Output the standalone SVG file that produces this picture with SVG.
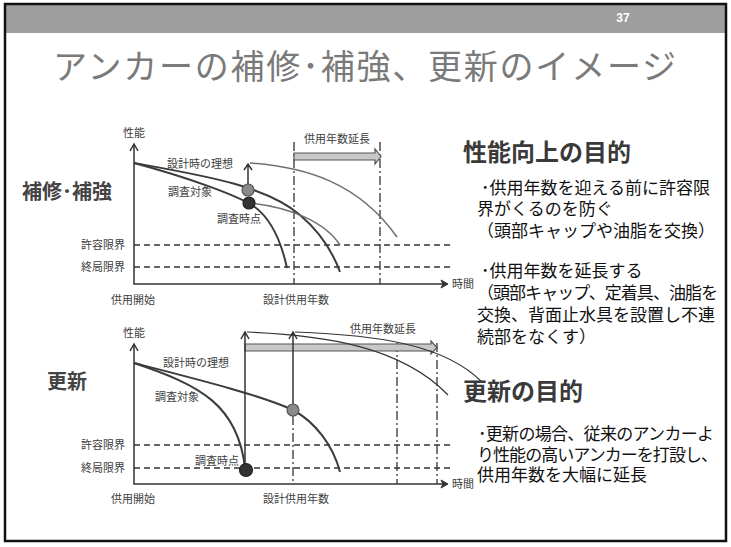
<svg xmlns="http://www.w3.org/2000/svg" width="731" height="547" viewBox="0 0 731 547">
<style>
text{font-family:"Liberation Sans","Noto Sans CJK JP",sans-serif}
.lbl{font-size:11px;fill:#404040}
.mid{text-anchor:middle}
.end{text-anchor:end}
.ax{stroke:#333;stroke-width:1.5;fill:none}
.dash{stroke:#333;stroke-width:1.3;stroke-dasharray:6 4;fill:none}
.dd{stroke:#333;stroke-width:1.3;stroke-dasharray:9 3 2 3;fill:none}
.dk{stroke:#3c3c3c;stroke-width:2;fill:none}
.lt{stroke:#707070;stroke-width:1.6;fill:none}
.thin{stroke:#333;stroke-width:1.2;fill:none}
.body{font-size:17px;fill:#111}
.head{font-size:24px;font-weight:bold;fill:#3a3a3a}
.big{font-size:20px;font-weight:bold;fill:#444}
.fat{fill:#c8c8c8;stroke:#555;stroke-width:1.2}
</style>
<rect x="0" y="0" width="731" height="547" fill="#fff"/>
<rect x="5" y="4" width="721" height="29" fill="#9e9e9e"/>
<rect x="5" y="4" width="721" height="537" fill="none" stroke="#111" stroke-width="2.5"/>
<text x="623" y="22" class="mid" style="font-size:12px;font-weight:bold;fill:#fff">37</text>
<text x="53" y="79" textLength="623" style="font-size:34px;fill:#7a7a7a">アンカーの補修･補強、更新のイメージ</text>

<g id="label-repair"><text x="22" y="199" class="big">補修･補強</text></g>
<g id="label-renew"><text x="47" y="389" class="big">更新</text></g>

<g id="chart1">
  <text x="134" y="137" class="lbl mid">性能</text>
  <text x="125" y="249" class="lbl end">許容限界</text>
  <text x="125" y="271" class="lbl end">終局限界</text>
  <text x="133" y="304" class="lbl mid">供用開始</text>
  <text x="296" y="304" class="lbl mid">設計供用年数</text>
  <text x="452" y="288" class="lbl">時間</text>
  <text x="337" y="143" class="lbl mid">供用年数延長</text>
  <text x="167" y="168" class="lbl">設計時の理想</text>
  <text x="168" y="196" class="lbl">調査対象</text>
  <text x="217" y="223" class="lbl">調査時点</text>
</g>
<g id="chart2">
  <text x="134" y="337" class="lbl mid">性能</text>
  <text x="125" y="449" class="lbl end">許容限界</text>
  <text x="125" y="472" class="lbl end">終局限界</text>
  <text x="133" y="503" class="lbl mid">供用開始</text>
  <text x="296" y="503" class="lbl mid">設計供用年数</text>
  <text x="452" y="488" class="lbl">時間</text>
  <text x="383" y="333" class="lbl mid">供用年数延長</text>
  <text x="163" y="367" class="lbl">設計時の理想</text>
  <text x="155" y="401" class="lbl">調査対象</text>
  <text x="195" y="465" class="lbl">調査時点</text>
</g>

<g id="connectors">
  <!-- chart 1 axes -->
  <path class="ax" d="M134,145 V284 H446"/>
  <path class="ax" d="M130,151 L134,144 L138,151"/>
  <path d="M441,280 L448,284 L441,288 L443,284 Z" fill="#333" stroke="#333" stroke-width="1"/>
  <path class="dash" d="M134,245 H450 M134,267 H450"/>
  <path class="dd" d="M294,142 V284 M380,142 V284"/>
  <path class="fat" d="M294,153 H375 V149 L381,156.5 L375,164 V160 H294 Z"/>
  <path class="dk" d="M134,163 C200,175 265,185 300,215 C320,232 332,250 340,272"/>
  <path class="dk" d="M134,163 C190,178 235,195 252,205 C272,218 282,245 287,268"/>
  <path class="lt" d="M250,203 C290,207 325,222 340,245"/>
  <path class="lt" d="M250,163 C305,167 358,182 397,237"/>
  <path class="thin" style="stroke-width:1.5" d="M248,190 V165 M244,170 L248,164 L252,170"/>
  <circle cx="248" cy="190" r="6" fill="#8a8a8a" stroke="#555" stroke-width="1.2"/>
  <circle cx="249" cy="203" r="6" fill="#333" stroke="#222" stroke-width="1.2"/>

  <!-- chart 2 axes -->
  <path class="ax" d="M134,345 V484 H446"/>
  <path class="ax" d="M130,351 L134,344 L138,351"/>
  <path d="M441,480 L448,484 L441,488 L443,484 Z" fill="#333" stroke="#333" stroke-width="1"/>
  <path class="dash" d="M134,445 H450 M134,468 H450"/>
  <path class="dd" d="M293,416 V484 M397,343 V484 M437,343 V484"/>
  <path class="fat" d="M245,344 H431 V341 L437,347.5 L431,354 V351 H245 Z"/>
  <path class="dk" d="M134,363 C200,385 238,405 245,468"/>
  <path class="dk" d="M134,363 C200,380 260,395 293,410 C315,422 333,445 340,472"/>
  <path class="thin" style="stroke-width:1.5" d="M245,470 V333 M241,339 L245,332 L249,339"/>
  <path class="thin" style="stroke-width:1.5" d="M293,410 V333 M289,339 L293,332 L297,339"/>
  <path class="thin" d="M247,332 C320,335 400,345 448,395"/>
  <path class="thin" d="M295,332 C380,335 445,345 482,382"/>
  <circle cx="293" cy="410" r="6" fill="#8a8a8a" stroke="#555" stroke-width="1.2"/>
  <circle cx="246" cy="470" r="6.5" fill="#333" stroke="#222" stroke-width="1.2"/>
</g>

<g id="text-performance">
  <text x="463" y="161" class="head">性能向上の目的</text>
  <text x="481" y="194" class="body">･供用年数を迎える前に許容限</text>
  <text x="477" y="215" class="body">界がくるのを防ぐ</text>
  <text x="477" y="237" class="body">（頭部キャップや油脂を交換）</text>
  <text x="481" y="277" class="body">･供用年数を延長する</text>
  <text x="477" y="299" class="body" textLength="241">（頭部キャップ、定着具、油脂を</text>
  <text x="477" y="321" class="body">交換、背面止水具を設置し不連</text>
  <text x="477" y="343" class="body">続部をなくす）</text>
</g>
<g id="text-renewal">
  <text x="463" y="400" class="head">更新の目的</text>
  <text x="478" y="440" class="body" textLength="236">･更新の場合、従来のアンカーよ</text>
  <text x="477" y="461" class="body" textLength="241">り性能の高いアンカーを打設し、</text>
  <text x="477" y="481" class="body">供用年数を大幅に延長</text>
</g>
</svg>
